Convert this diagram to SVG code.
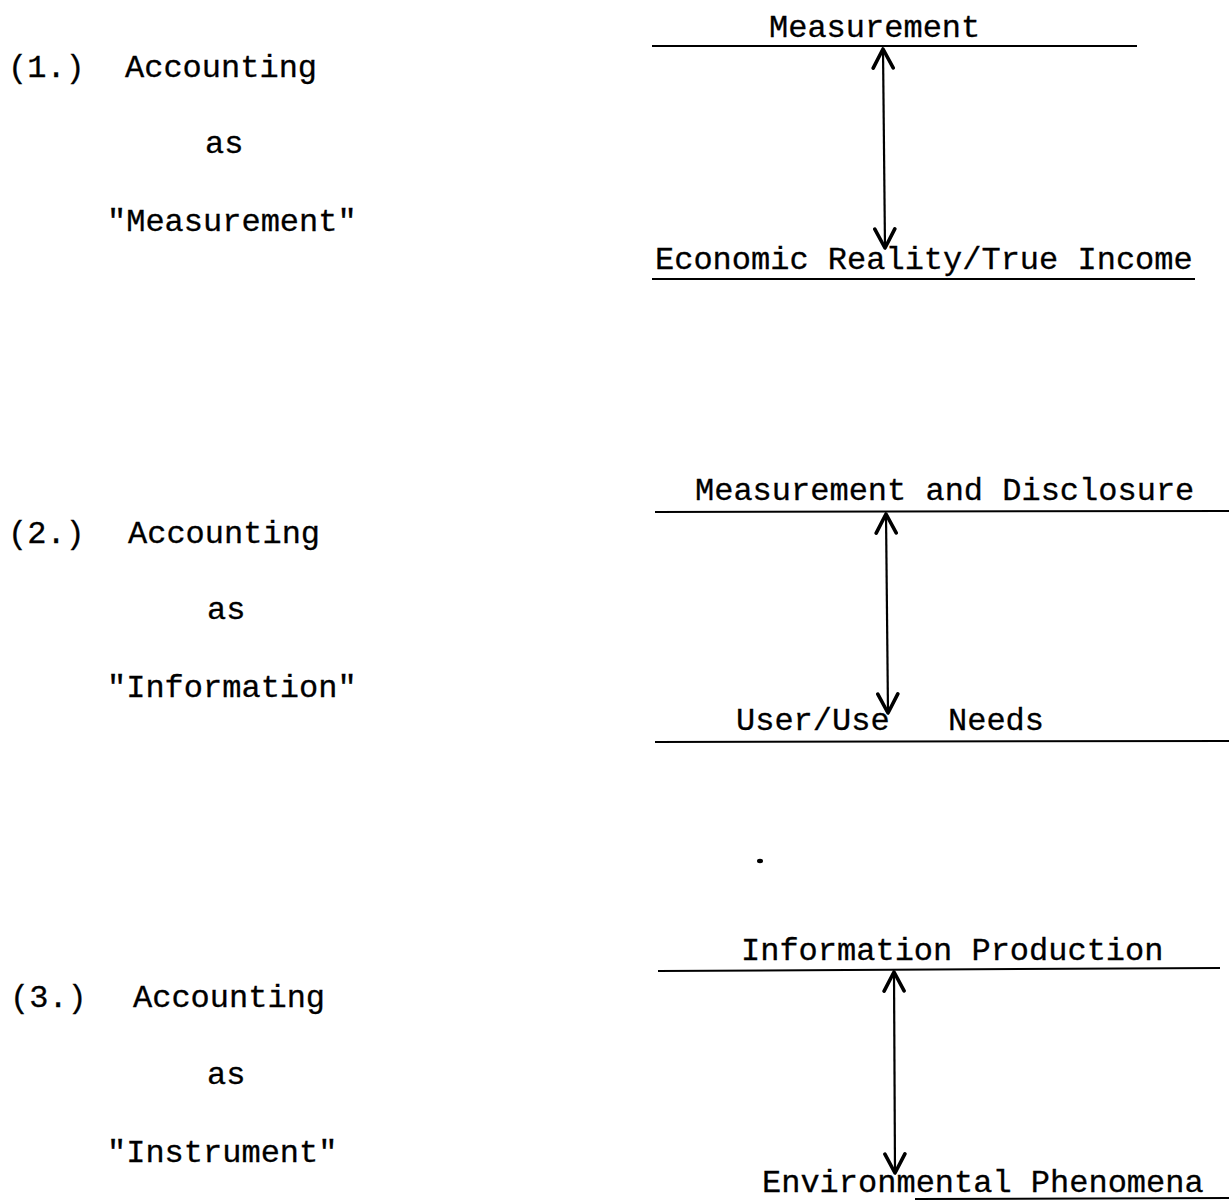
<svg xmlns="http://www.w3.org/2000/svg" width="1229" height="1201" viewBox="0 0 1229 1201">
  <style>
    text { font-family: "Liberation Mono", "Courier New", monospace; font-size: 32px; fill: #000; stroke: #000; stroke-width: 0.3px; }
    .rule { stroke: #000; stroke-width: 2; fill: none; }
    .link { stroke: #000; stroke-width: 2.2; fill: none; marker-start: url(#head); marker-end: url(#head); }
  </style>
  <defs>
    <!-- open V arrowhead, oriented along the path -->
    <marker id="head" viewBox="0 0 24 24" refX="21" refY="12" markerWidth="24" markerHeight="24" markerUnits="userSpaceOnUse" orient="auto-start-reverse">
      <path d="M2 2 L21 12 L2 22" fill="none" stroke="#000" stroke-width="3.6" stroke-linecap="round" stroke-linejoin="round"/>
    </marker>
  </defs>

  <rect width="1229" height="1201" fill="#fff"/>

  <!-- left column: the three views of accounting -->
  <g id="view-measurement">
    <text x="8" y="77">(1.)</text>
    <text x="125" y="77">Accounting</text>
    <text x="205" y="153">as</text>
    <text x="107" y="231">"Measurement"</text>
  </g>
  <g id="view-information">
    <text x="8" y="543">(2.)</text>
    <text x="128" y="543">Accounting</text>
    <text x="207" y="619">as</text>
    <text x="107" y="697">"Information"</text>
  </g>
  <g id="view-instrument">
    <text x="10" y="1007">(3.)</text>
    <text x="133" y="1007">Accounting</text>
    <text x="207" y="1084">as</text>
    <text x="107" y="1162">"Instrument"</text>
  </g>

  <!-- right column: paired levels -->
  <g id="measurement">
    <text x="769" y="37">Measurement</text>
    <line class="rule" x1="652" y1="46" x2="1137" y2="46"/>
  </g>
  <g id="economic-reality">
    <text x="655" y="269">Economic Reality/True Income</text>
    <line class="rule" x1="652" y1="279" x2="1195" y2="279"/>
  </g>
  <g id="measurement-disclosure">
    <text x="695" y="500">Measurement and Disclosure</text>
    <line class="rule" x1="655" y1="512" x2="1229" y2="511"/>
  </g>
  <g id="user-needs">
    <text x="736" y="730">User/Use</text>
    <text x="948" y="730">Needs</text>
    <line class="rule" x1="655" y1="742" x2="1229" y2="741"/>
  </g>
  <g id="information-production">
    <text x="741" y="960">Information Production</text>
    <line class="rule" x1="658" y1="971" x2="1220" y2="968"/>
  </g>
  <g id="environmental-phenomena">
    <text x="762" y="1192">Environmental Phenomena</text>
    <line class="rule" x1="915" y1="1199" x2="1229" y2="1198"/>
  </g>

  <!-- stray typewriter mark -->
  <ellipse cx="760" cy="861" rx="3" ry="2.2" fill="#000"/>

  <!-- two-way links between the levels -->
  <g id="connectors">
    <path class="link" d="M883 49 L885 248"/>
    <path class="link" d="M886 514 L888 713"/>
    <path class="link" d="M894 972 L895 1173"/>
  </g>
</svg>
